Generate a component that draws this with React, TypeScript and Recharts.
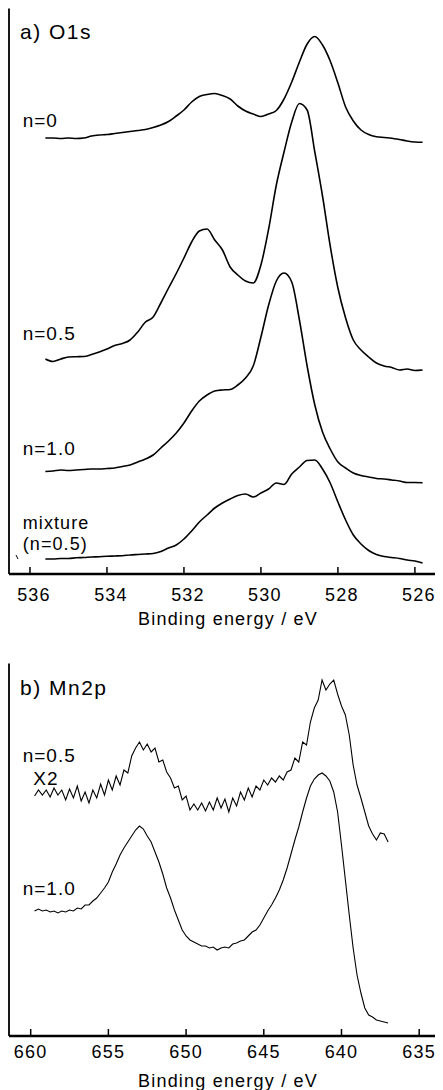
import { LineChart, Line, XAxis, YAxis } from "recharts";

// ---- a) O1s : binding energy (eV) and intensities (a.u.) ----
const o1sEnergy = [
  535.6, 535.4, 535.2, 535.0, 534.8, 534.6, 534.4, 534.2, 534.0, 533.8,
  533.6, 533.4, 533.2, 533.0, 532.8, 532.6, 532.4, 532.2, 532.0, 531.8,
  531.6, 531.4, 531.2, 531.0, 530.8, 530.6, 530.4, 530.2, 530.0, 529.8,
  529.6, 529.4, 529.2, 529.0, 528.8, 528.6, 528.4, 528.2, 528.0, 527.8,
  527.6, 527.4, 527.2, 527.0, 526.8, 526.6, 526.4, 526.2, 526.0, 525.8,
];
const o1sN0 = [
  436, 436, 435.5, 436, 435.5, 436, 438, 439, 439.5, 440.5,
  441.5, 442.5, 443.5, 444.5, 446.5, 449, 452.5, 458, 464, 472,
  477.5, 479.5, 480.5, 478.5, 475, 468, 463, 460, 457.5, 460,
  463.5, 475, 492, 512, 530, 537.5, 529, 513, 491, 467,
  453, 444, 439.5, 437.3, 436.5, 435.8, 434.5, 433, 432, 431.7,
];
const o1sN05 = [
  215, 212.5, 215, 217, 217.3, 217.5, 219.5, 222, 225, 228.5,
  230.5, 234, 242, 252, 257, 271, 286, 300.5, 316, 332,
  343, 345, 334, 324, 307, 299, 293, 291, 309, 345,
  389, 422, 452, 470.5, 464, 422, 378, 328, 286, 256,
  234, 224, 217, 211, 208, 206.5, 204, 205, 203.5, 204,
];
const o1sN10 = [
  102.5, 103, 104, 103.5, 104, 104.5, 105, 105, 105.5, 106,
  107.5, 109, 112, 115, 119, 126, 133, 141, 151, 163,
  173, 179, 183, 184, 184.5, 189, 196, 208, 237, 269,
  293, 301, 292, 254, 208, 169, 142, 125, 112, 106,
  101, 98.5, 97, 95.5, 95, 94, 93, 91.5, 91.5, 91.3,
];
const o1sMix = [
  15, 15, 15.5, 15.5, 16.2, 16.5, 17, 17.3, 17.7, 18,
  18.3, 19, 19.5, 20, 20.5, 22.5, 26, 29, 35, 43,
  52, 59, 66, 71, 75, 78.5, 80, 77, 81, 85,
  91, 89.5, 100, 107, 113.5, 114, 105, 91, 72, 54,
  39, 30, 23.5, 19.5, 17.5, 16.5, 15.5, 14, 13, 11,
];
const o1sTicks = [536, 534, 532, 530, 528, 526];

// ---- b) Mn2p ----
const mnEnergy = [
  659.75, 659.5, 659.25, 659, 658.75, 658.5, 658.25, 658, 657.75, 657.5,
  657.25, 657, 656.75, 656.5, 656.25, 656, 655.75, 655.5, 655.25, 655,
  654.75, 654.5, 654.25, 654, 653.75, 653.5, 653.25, 653, 652.75, 652.5,
  652.25, 652, 651.75, 651.5, 651.25, 651, 650.75, 650.5, 650.25, 650,
  649.75, 649.5, 649.25, 649, 648.75, 648.5, 648.25, 648, 647.75, 647.5,
  647.25, 647, 646.75, 646.5, 646.25, 646, 645.75, 645.5, 645.25, 645,
  644.75, 644.5, 644.25, 644, 643.75, 643.5, 643.25, 643, 642.75, 642.5,
  642.25, 642, 641.75, 641.5, 641.25, 641, 640.75, 640.5, 640.25, 640,
  639.75, 639.5, 639.25, 639, 638.75, 638.5, 638.25, 638, 637.75, 637.5,
  637.25, 637,
];
const mnN05x2 = [
  240, 246, 241, 246, 239, 248, 241, 246, 236, 247,
  238, 250, 235, 244, 233, 246, 238, 252, 241, 256,
  246, 260, 251, 266, 263, 280, 288, 294, 286, 292,
  284, 288, 274, 276, 264, 258, 248, 250, 236, 240,
  226, 232, 226, 233, 225, 234, 226, 238, 228, 237,
  224, 238, 230, 244, 236, 248, 239, 250, 246, 256,
  251, 258, 254, 260, 256, 264, 266, 278, 274, 294,
  291, 314, 328, 336, 356, 346, 352, 356, 342, 330,
  321, 301, 271, 251, 238, 224, 210, 202, 196, 203,
  202, 194,
];
const mnN10 = [
  125, 127, 125, 126, 124, 125, 123, 125, 124, 126,
  125, 128, 127, 131, 131, 135, 138, 143, 148, 154,
  164, 172, 181, 188, 194, 200, 206, 210, 207, 200,
  194, 184, 174, 162, 148, 138, 126, 116, 106, 100,
  96, 94, 92, 90, 90, 88, 89, 86, 88, 89,
  88, 92, 93, 95, 96, 100, 104, 106, 111, 118,
  125, 131, 138, 146, 156, 168, 182, 196, 209, 224,
  238, 250, 257, 261, 263, 260, 255, 244, 224, 191,
  156, 121, 88, 61, 43, 28, 21, 19, 16, 15,
  14, 13,
];
const mnTicks = [660, 655, 650, 645, 640, 635];

const o1sData = o1sEnergy.map((e, i) => ({
  e,
  n0: o1sN0[i],
  n05: o1sN05[i],
  n10: o1sN10[i],
  mix: o1sMix[i],
}));
const mnData = mnEnergy.map((e, i) => ({ e, n05: mnN05x2[i], n10: mnN10[i] }));

const FONT = '"Liberation Sans", Arial, Helvetica, sans-serif';

const BottomTick = (props: any) => {
  const { x, y, payload, labelDy, labelDx } = props;
  return (
    <g>
      <line x1={x} x2={x} y1={y} y2={y - 7} stroke="#000" strokeWidth={1.5} />
      <text
        x={x + labelDx}
        y={y + labelDy}
        textAnchor="middle"
        fontFamily={FONT}
        fontSize={18}
        letterSpacing={1.2}
        fill="#000"
      >
        {payload.value}
      </text>
    </g>
  );
};

const txt = {
  fontFamily: FONT,
  fill: "#000",
} as const;

export default function App() {
  return (
    <div
      style={{
        position: "relative",
        width: 435,
        height: 1082,
        overflow: "hidden",
        background: "#fff",
      }}
    >
      {/* a) O1s */}
      <div style={{ position: "absolute", left: 0, top: 0 }}>
        <LineChart
          width={440}
          height={626}
          data={o1sData}
          margin={{ top: 0.5, right: 0, bottom: 0, left: 0 }}
        >
          <XAxis
            dataKey="e"
            type="number"
            domain={[525.14, 536.545]}
            reversed
            allowDataOverflow
            ticks={o1sTicks}
            interval={0}
            tickSize={0}
            tickMargin={0}
            height={60}
            tickLine={false}
            axisLine={{ stroke: "#000", strokeWidth: 2.5 }}
            tick={(p: any) => <BottomTick {...p} labelDy={26.5} labelDx={4} />}
          />
          <XAxis
            xAxisId="top"
            orientation="top"
            dataKey="e"
            type="number"
            domain={[525.14, 536.545]}
            reversed
            allowDataOverflow
            height={0}
            tick={false}
            tickLine={false}
            axisLine={{ stroke: "#000", strokeWidth: 1 }}
          />
          <YAxis
            type="number"
            domain={[0, 565.5]}
            allowDataOverflow
            width={1}
            tick={false}
            tickLine={false}
            axisLine={{ stroke: "#000", strokeWidth: 1.8 }}
          />
          {["n0", "n05", "n10", "mix"].map((k) => (
            <Line
              key={k}
              dataKey={k}
              type="monotone"
              stroke="#000"
              strokeWidth={1.6}
              dot={false}
              isAnimationActive={false}
            />
          ))}
        </LineChart>
      </div>

      {/* b) Mn2p */}
      <div style={{ position: "absolute", left: 0, top: 655 }}>
        <LineChart
          width={440}
          height={427}
          data={mnData}
          margin={{ top: 0.5, right: 0, bottom: 0, left: 0 }}
        >
          <XAxis
            dataKey="e"
            type="number"
            domain={[633.146, 661.396]}
            reversed
            allowDataOverflow
            ticks={mnTicks}
            interval={0}
            tickSize={0}
            tickMargin={0}
            height={54}
            tickLine={false}
            axisLine={{ stroke: "#000", strokeWidth: 2.5 }}
            tick={(p: any) => <BottomTick {...p} labelDy={22} labelDx={0} />}
          />
          <XAxis
            xAxisId="top"
            orientation="top"
            dataKey="e"
            type="number"
            domain={[633.146, 661.396]}
            reversed
            allowDataOverflow
            height={0}
            tick={false}
            tickLine={false}
            axisLine={{ stroke: "#000", strokeWidth: 1 }}
          />
          <YAxis
            type="number"
            domain={[0, 372.5]}
            allowDataOverflow
            width={1}
            tick={false}
            tickLine={false}
            axisLine={{ stroke: "#000", strokeWidth: 1.8 }}
          />
          {["n05", "n10"].map((k) => (
            <Line
              key={k}
              dataKey={k}
              type="linear"
              stroke="#000"
              strokeWidth={1.1}
              dot={false}
              isAnimationActive={false}
            />
          ))}
        </LineChart>
      </div>

      {/* text annotations */}
      <svg
        width={435}
        height={1082}
        style={{ position: "absolute", left: 0, top: 0, pointerEvents: "none" }}
      >
        <g transform="translate(-8 -8)">
          <text x={20} y={39} fontSize={21} letterSpacing={1.5} {...txt}>a) O1s</text>
          <text x={22.7} y={126.7} fontSize={19} letterSpacing={1} {...txt}>n=0</text>
          <text x={22.7} y={340} fontSize={19} letterSpacing={1} {...txt}>n=0.5</text>
          <text x={22.7} y={455} fontSize={19} letterSpacing={1} {...txt}>n=1.0</text>
          <text x={22.7} y={529} fontSize={18} letterSpacing={1.1} {...txt}>mixture</text>
          <text x={22.7} y={550} fontSize={18} letterSpacing={1.1} {...txt}>(n=0.5)</text>
          <line x1={16} y1={555} x2={18} y2={559} stroke="#000" strokeWidth={1} />
          <text x={228} y={625} fontSize={18} letterSpacing={1.2} textAnchor="middle" {...txt}>
            Binding energy / eV
          </text>

          <text x={20} y={695} fontSize={21} letterSpacing={1.5} {...txt}>b) Mn2p</text>
          <text x={22.7} y={761.7} fontSize={19} letterSpacing={1} {...txt}>n=0.5</text>
          <text x={33.3} y={785} fontSize={19} letterSpacing={1} {...txt}>X2</text>
          <text x={22.7} y={895} fontSize={19} letterSpacing={1} {...txt}>n=1.0</text>
          <text x={228} y={1087} fontSize={18} letterSpacing={1.2} textAnchor="middle" {...txt}>
            Binding energy / eV
          </text>
        </g>
      </svg>
    </div>
  );
}
